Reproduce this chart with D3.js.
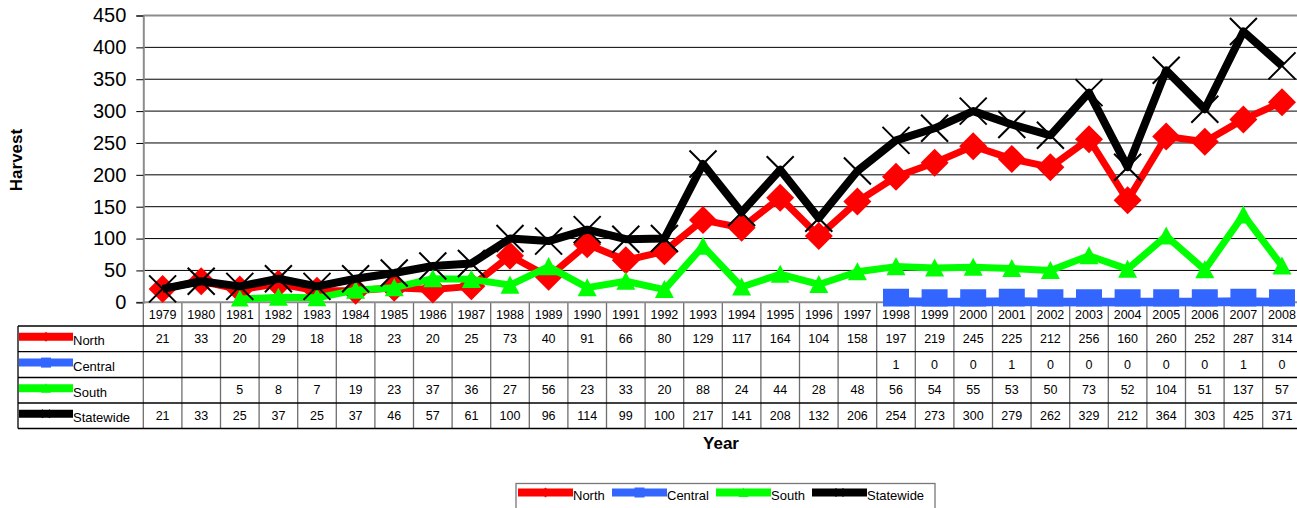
<!DOCTYPE html>
<html>
<head>
<meta charset="utf-8">
<script src="https://cdn.jsdelivr.net/npm/d3@7"></script>
<style>
  html, body { margin: 0; padding: 0; background: #fff; }
  svg { display: block; font-family: Arial, "Liberation Sans", sans-serif; }
</style>
</head>
<body>
<svg id="chart" width="1297" height="508"></svg>
<script>
// Harvest by region, 1979-2008
const years = d3.range(1979, 2009).map(String);
const north = [21,33,20,29,18,18,23,20,25,73,40,91,66,80,129,117,164,104,158,197,219,245,225,212,256,160,260,252,287,314];
const central = [null,null,null,null,null,null,null,null,null,null,null,null,null,null,null,null,null,null,null,1,0,0,1,0,0,0,0,0,1,0];
const south = [null,null,5,8,7,19,23,37,36,27,56,23,33,20,88,24,44,28,48,56,54,55,53,50,73,52,104,51,137,57];
const statewide = [21,33,25,37,25,37,46,57,61,100,96,114,99,100,217,141,208,132,206,254,273,300,279,262,329,212,364,303,425,371];
const yTicks = [0,50,100,150,200,250,300,350,400,450];

const seriesList = [
  { name: "North", values: north, color: "#ff0000", width: 7, marker: "diamond" },
  { name: "Central", values: central, color: "#3366ff", width: 9, marker: "square" },
  { name: "South", values: south, color: "#00ff00", width: 7, marker: "triangle" },
  { name: "Statewide", values: statewide, color: "#000000", width: 8, marker: "x" }
];

const svg = d3.select("#chart");
const plotLeft = 143.3, plotRight = 1301.3, plotTop = 15.5, plotBottom = 302.3;
const x = d3.scaleBand().domain(years).range([plotLeft, plotRight]).padding(0);
const y = d3.scaleLinear().domain([0, 450]).range([plotBottom, plotTop]);
const cx = d => x(d) + x.bandwidth() / 2;

// gridlines
svg.append("g").selectAll("line").data(yTicks.filter(t => t > 0 && t < 450)).join("line")
  .attr("x1", plotLeft).attr("x2", plotRight).attr("y1", d => y(d)).attr("y2", d => y(d))
  .attr("stroke", "#000").attr("stroke-width", 1);
svg.append("line").attr("x1", plotLeft).attr("x2", plotRight).attr("y1", y(450)).attr("y2", y(450))
  .attr("stroke", "#8c8c8c").attr("stroke-width", 2);

// y axis
const yAxis = svg.append("g").attr("transform", `translate(${plotLeft},0)`)
  .call(d3.axisLeft(y).tickValues(yTicks).tickSize(7).tickPadding(10));
yAxis.select(".domain").attr("stroke", "#8c8c8c").attr("stroke-width", 2);
yAxis.selectAll(".tick line").attr("stroke", "#000");
yAxis.selectAll(".tick text").attr("font-size", 20).attr("fill", "#000")
  .attr("font-family", "Arial, 'Liberation Sans', sans-serif");

svg.append("text").attr("transform", "translate(22,160) rotate(-90)")
  .attr("text-anchor", "middle").attr("font-size", 17).attr("font-weight", "bold").text("Harvest");

// data table grid
const rowY = [302.3, 326, 351.7, 377.5, 403, 428.5];
const tableLeft = 18;
const tbl = svg.append("g");
tbl.selectAll("line.hv").data(years.concat(["end"])).join("line").attr("class", "hv")
  .attr("x1", (d, i) => plotLeft + i * x.bandwidth()).attr("x2", (d, i) => plotLeft + i * x.bandwidth())
  .attr("y1", rowY[0]).attr("y2", rowY[5]).attr("stroke", "#6e6e6e").attr("stroke-width", 1.3);
tbl.append("line").attr("x1", tableLeft).attr("x2", tableLeft).attr("y1", rowY[1]).attr("y2", rowY[5])
  .attr("stroke", "#000").attr("stroke-width", 1.3);
tbl.selectAll("line.hr").data(rowY.slice(1)).join("line").attr("class", "hr")
  .attr("x1", tableLeft).attr("x2", plotRight).attr("y1", d => d).attr("y2", d => d)
  .attr("stroke", "#000").attr("stroke-width", 1.3);

// x axis line
svg.append("line").attr("x1", plotLeft).attr("x2", plotRight).attr("y1", plotBottom).attr("y2", plotBottom)
  .attr("stroke", "#8c8c8c").attr("stroke-width", 2);

// marker shapes
function markerPath(type, s) {
  if (type === "diamond") return `M0,${-s}L${s},0L0,${s}L${-s},0Z`;
  if (type === "square") return `M${-s},${-s}H${s}V${s}H${-s}Z`;
  if (type === "triangle") return `M0,${-s}L${s},${s * 0.9}L${-s},${s * 0.9}Z`;
  return `M${-s},${-s}L${s},${s}M${s},${-s}L${-s},${s}`;
}
function drawMarker(g, type, color, s, sw) {
  const p = g.append("path").attr("d", markerPath(type, s));
  if (type === "x") p.attr("fill", "none").attr("stroke", color).attr("stroke-width", sw);
  else p.attr("fill", color);
}
const markerSize = { diamond: 14, square: 13, triangle: 9.5, x: 13.5 };

// series
svg.append("clipPath").attr("id", "plotClip").append("rect")
  .attr("x", plotLeft).attr("y", 0).attr("width", plotRight - plotLeft).attr("height", 306.5);
const plot = svg.append("g").attr("clip-path", "url(#plotClip)");
const line = d3.line().defined(d => d.v !== null).x(d => cx(d.year)).y(d => y(d.v));
seriesList.forEach(s => {
  const pts = years.map((yr, i) => ({ year: yr, v: s.values[i] }));
  const g = plot.append("g");
  g.append("path").datum(pts).attr("d", line).attr("fill", "none")
    .attr("stroke", s.color).attr("stroke-width", s.width).attr("stroke-linejoin", "round");
  pts.filter(d => d.v !== null).forEach(d => {
    const m = g.append("g").attr("transform", `translate(${cx(d.year)},${y(d.v)})`);
    drawMarker(m, s.marker, s.color, markerSize[s.marker], 2);
  });
});

// table header labels
const hdr = svg.append("g");
hdr.selectAll("text").data(years).join("text")
  .attr("x", d => cx(d)).attr("y", (rowY[0] + rowY[1]) / 2 + 1)
  .attr("text-anchor", "middle").attr("dominant-baseline", "central")
  .attr("font-size", 12.5).text(d => d);

// table rows
seriesList.forEach((s, r) => {
  const y0 = rowY[r + 1], y1 = rowY[r + 2], ym = (y0 + y1) / 2;
  const g = svg.append("g");
  g.append("line").attr("x1", 19).attr("x2", 73).attr("y1", ym - 2).attr("y2", ym - 2)
    .attr("stroke", s.color).attr("stroke-width", 8);
  const m = g.append("g").attr("transform", `translate(46,${ym - 2})`);
  drawMarker(m, s.marker, s.color, s.marker === "x" ? 4 : 5, 1.5);
  g.append("text").attr("x", 73).attr("y", ym + 2).attr("dominant-baseline", "central")
    .attr("font-size", 13).text(s.name);
  g.selectAll("text.v").data(years.map((yr, i) => ({ yr, v: s.values[i] })).filter(d => d.v !== null))
    .join("text").attr("class", "v")
    .attr("x", d => cx(d.yr)).attr("y", ym)
    .attr("text-anchor", "middle").attr("dominant-baseline", "central")
    .attr("font-size", 12.5).text(d => d.v);
});

svg.append("text").attr("x", 721).attr("y", 443).attr("text-anchor", "middle")
  .attr("dominant-baseline", "central").attr("font-size", 17).attr("font-weight", "bold").text("Year");

// legend
const lg = svg.append("g");
lg.append("rect").attr("x", 516).attr("y", 483.5).attr("width", 419).attr("height", 40)
  .attr("fill", "#fff").attr("stroke", "#777").attr("stroke-width", 1.3);
const legX = [518, 612, 716, 812];
seriesList.forEach((s, i) => {
  const lx = legX[i];
  lg.append("line").attr("x1", lx).attr("x2", lx + 55).attr("y1", 492.5).attr("y2", 492.5)
    .attr("stroke", s.color).attr("stroke-width", 8);
  const m = lg.append("g").attr("transform", `translate(${lx + 27.5},492.5)`);
  drawMarker(m, s.marker, s.color, s.marker === "x" ? 4 : 5, 1.5);
  lg.append("text").attr("x", lx + 55).attr("y", 495).attr("dominant-baseline", "central")
    .attr("font-size", 13).text(s.name);
});
</script>
</body>
</html>
